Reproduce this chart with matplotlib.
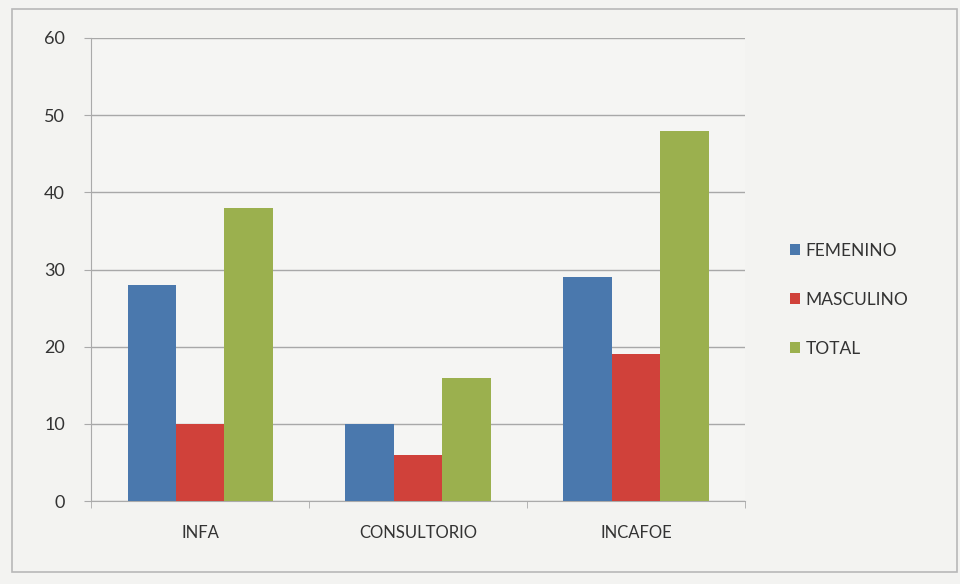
import matplotlib.pyplot as plt
import numpy as np
from matplotlib.patches import Rectangle

categories = ['INFA', 'CONSULTORIO', 'INCAFOE']
femenino = [28, 10, 29]
masculino = [10, 6, 19]
total = [38, 16, 48]
series_names = ['FEMENINO', 'MASCULINO', 'TOTAL']
colors = ['#4a78ad', '#d0413a', '#9bb04e']

plt.rcParams['font.family'] = ['Lato', 'DejaVu Sans']

fig = plt.figure(figsize=(9.6, 5.84), dpi=100)
fig.patch.set_facecolor('#f3f3f1')
# outer chart border
fig.add_artist(Rectangle((0.012, 0.02), 0.985, 0.965, transform=fig.transFigure,
                         fill=False, edgecolor='#b8b8b8', linewidth=1.2))

ax = fig.add_axes([0.095, 0.142, 0.681, 0.793])
ax.set_facecolor('#f5f5f3')

x = np.arange(len(categories))
width = 1 / 4.5
for i, (name, vals) in enumerate(zip(series_names, [femenino, masculino, total])):
    ax.bar(x + (i - 1) * width, vals, width, color=colors[i], label=name, zorder=3)

ax.set_xlim(-0.5, len(categories) - 0.5)
ax.set_ylim(0, 60)
ax.set_yticks(range(0, 61, 10))
ax.grid(axis='y', color='#a8a8a8', linewidth=1.0, zorder=0)

ax.set_xticks(x)
ax.set_xticklabels(categories)
ax.set_xticks(np.arange(-0.5, len(categories), 1), minor=True)
ax.tick_params(axis='x', which='major', length=0, pad=17, labelsize=12, labelcolor='#333333')
ax.tick_params(axis='x', which='minor', length=5, color='#aaaaaa', direction='out')
ax.tick_params(axis='y', length=5, color='#aaaaaa', labelsize=13, pad=14, labelcolor='#333333')

for side in ['top', 'right']:
    ax.spines[side].set_visible(False)
ax.spines['left'].set_color('#aaaaaa')
ax.spines['bottom'].set_color('#aaaaaa')

leg = ax.legend(loc='center left', bbox_to_anchor=(1.045, 0.434), frameon=False,
                fontsize=12.5, handlelength=0.6, handleheight=0.6, handletextpad=0.3,
                labelspacing=1.9, labelcolor='#333333')

fig.savefig('out.png', dpi=100, facecolor=fig.get_facecolor())
